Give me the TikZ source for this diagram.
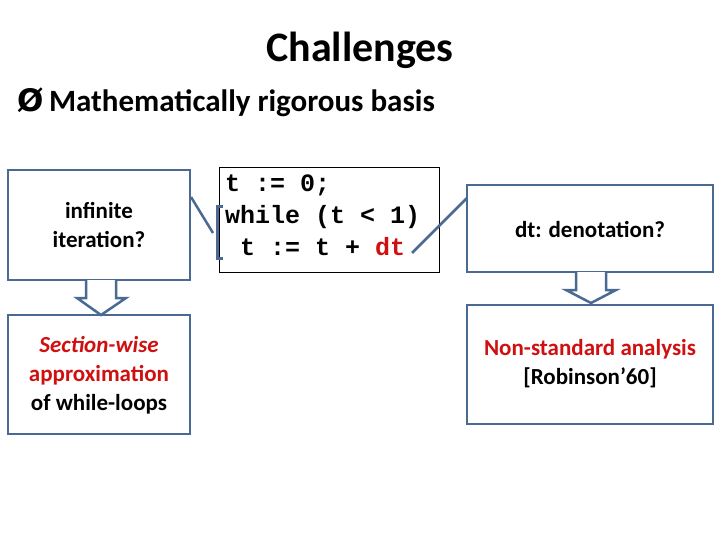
\documentclass[tikz,border=0pt]{standalone}
\usepackage{fontspec}
\setmainfont{Carlito}
\newfontfamily\codefont{Liberation Mono}
\newfontfamily\symfont{DejaVu Sans}
\definecolor{bl}{HTML}{4A6A94}
\definecolor{rd}{HTML}{D01010}
\begin{document}
\begin{tikzpicture}[x=1pt,y=-1pt,
 bx/.style={draw=bl,line width=2.5pt,fill=white},
 txt/.style={align=center,font=\fontsize{23}{29}\selectfont\bfseries}]
\useasboundingbox (0,0) rectangle (720,540);
\node[font=\fontsize{42}{48}\selectfont\bfseries] (title) at (360,50) {Challenges};
\node[anchor=west,font=\fontsize{31}{36}\selectfont\bfseries] (bul) at (14,102) {{\symfont\bfseries Ø}\,Mathematically rigorous basis};
\draw[bx] (8,170) rectangle (190,280);
\node[txt] (a) at (99,225) {infinite\\iteration?};
\draw[bx] (8,315) rectangle (190,434);
\node[txt,text=rd] (b) at (99,375) {\textit{Section-wise}\\approximation\\{\color{black}of while-loops}};
\draw[black,line width=0.8pt] (219,167) rectangle (439,272);
\node[anchor=north west,align=left,font=\codefont\bfseries\fontsize{25}{32}\selectfont,inner sep=0pt] (code) at (225,175) {t := 0;\\while (t < 1)\\\hspace{15pt}t := t + \textcolor{rd}{dt}};
\draw[bx] (467,185) rectangle (713,272);
\node[txt] (c) at (590,229) {dt: denotation?};
\draw[bx] (467,305) rectangle (713,424);
\node[txt] (d) at (590,364) {\textcolor{rd}{Non-standard analysis}\\{}[Robinson’60]};
% block arrows
\draw[bl,line width=2.5pt,fill=white] (86,280) -- (86,298) -- (77,298) -- (101,315) -- (126,298) -- (116,298) -- (116,280);
\draw[bl,line width=2.5pt,fill=white] (576,272) -- (576,290) -- (566,290) -- (591,303) -- (616,290) -- (606,290) -- (606,272);
% bracket and connectors
\coordinate (br) at (213,233);
\draw[bl,line width=3pt] (223,207) -- (217,207) -- (217,258) -- (223,258);
\draw[bl,line width=2.5pt] (191,197) -- (br);
\coordinate (dt) at (412,253);
\draw[bl,line width=2.5pt] (dt) -- (467,198);
\end{tikzpicture}
\end{document}
